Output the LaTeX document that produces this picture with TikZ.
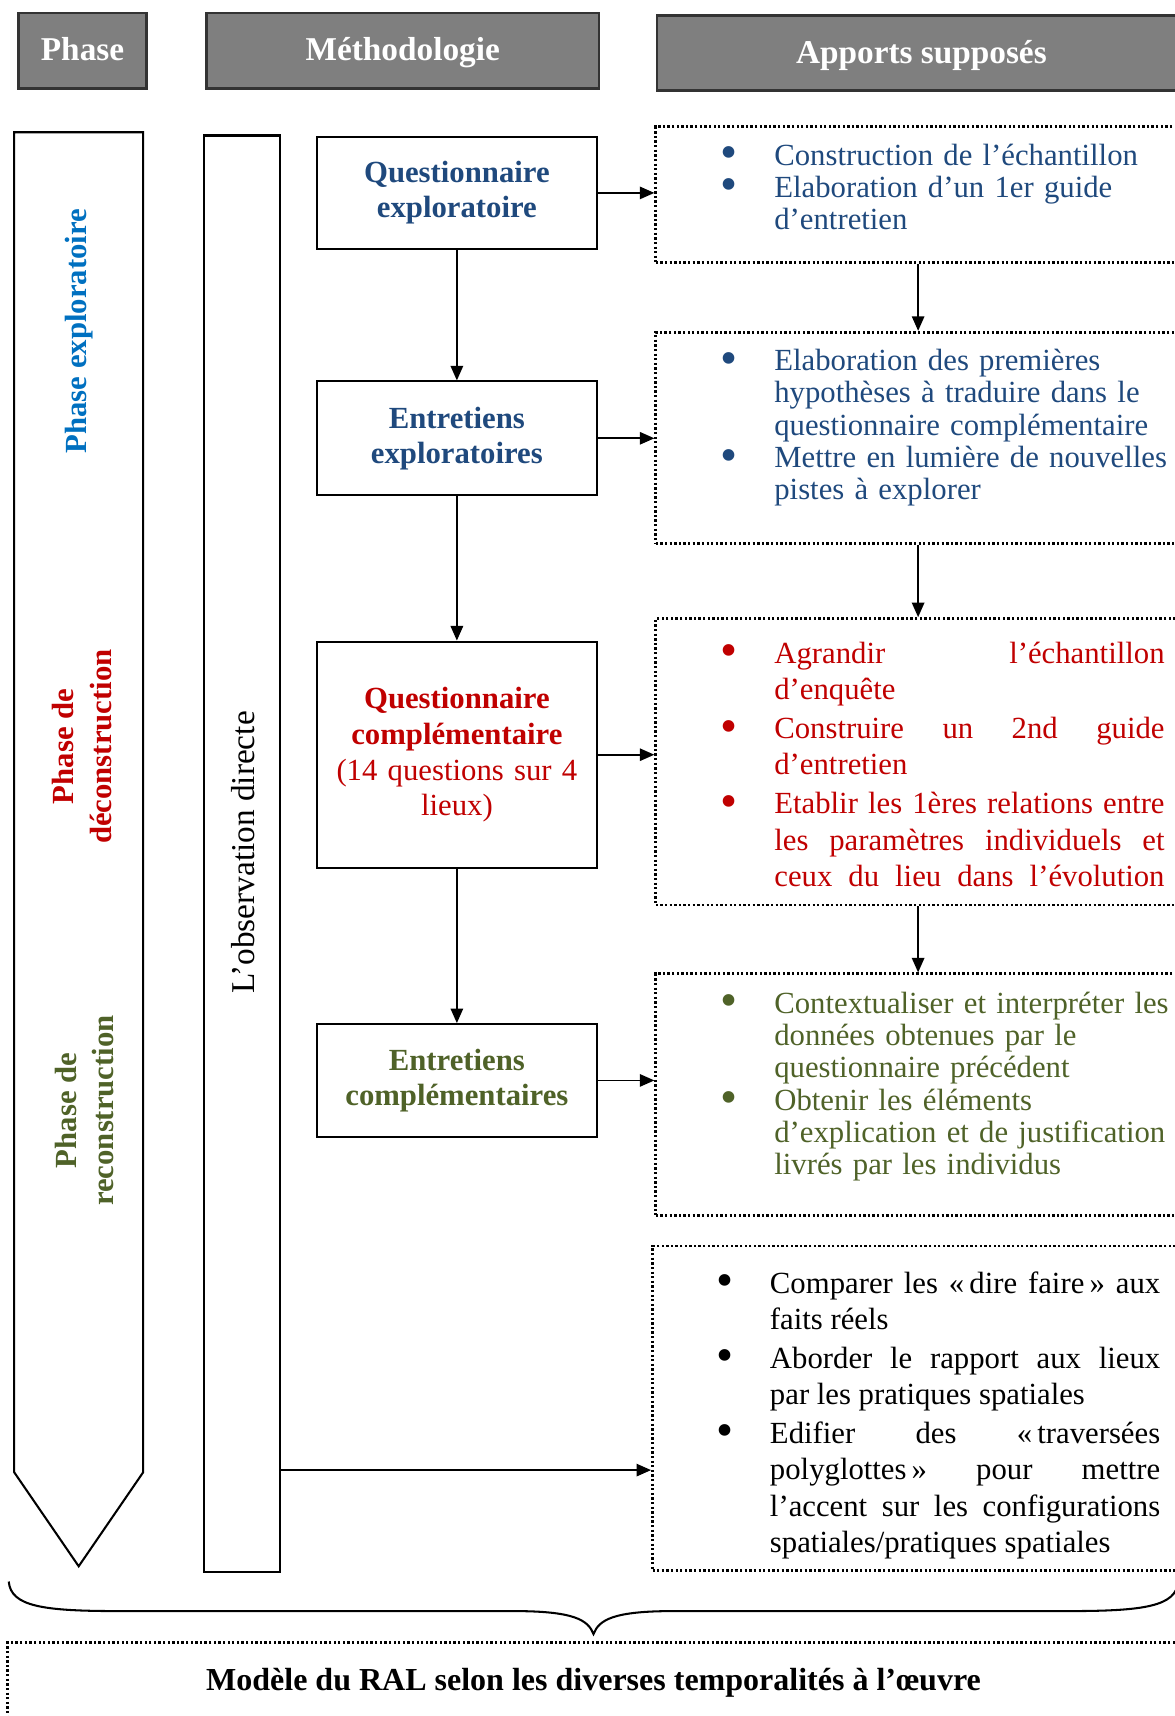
\documentclass[tikz,border=0pt]{standalone}
\usepackage{fontspec}
\setmainfont{Liberation Serif}
\usepackage{enumitem}
\usetikzlibrary{arrows.meta}

\definecolor{bleuQ}{HTML}{1F497D}
\definecolor{bleuP}{HTML}{0070C0}
\definecolor{rougeQ}{HTML}{C00000}
\definecolor{vertQ}{HTML}{4F6228}
\definecolor{grisH}{HTML}{7F7F7F}

\newcommand{\grospoint}{\smash{\raisebox{-0.12em}{\fontsize{19}{19}\selectfont\textbullet}}}
\newenvironment{puces}[1]
  {\begin{itemize}[label = \grospoint, leftmargin = 0.87cm, labelsep = 0.5cm, topsep = 0pt, partopsep = 0pt, parsep = 0pt, itemsep = #1]}
  {\end{itemize}}

\begin{document}
\begin{tikzpicture}
[
x = 0.015cm, y = -0.015cm,
entete/.style = {rectangle, draw = black!80, line width = 1pt, fill = grisH, text = white, font = \fontsize{13}{15}\selectfont\bfseries, minimum height = 1.035cm, text height = 2.2ex, text depth = 0.5ex},
etape/.style = {rectangle, draw, line width = 0.8pt, fill = white, minimum width = 3.84cm, text width = 3.6cm, align = center, font = \fontsize{12}{13.6}\selectfont\bfseries},
apport/.style = {rectangle, draw, line width = 1.1pt, dash pattern = on 0.9pt off 0.9pt, minimum width = 7.2cm},
liste/.style = {anchor = north west, inner sep = 0pt, text width = 6.57cm, align = left, font = \fontsize{12}{12.6}\selectfont},
fleche/.style = {-{Triangle[length = 0.2cm, width = 0.17cm]}, line width = 0.7pt},
phase/.style = {rotate = 90, align = center, font = \fontsize{12}{14.5}\selectfont\bfseries}
]
    \useasboundingbox (0,0) rectangle (1075,1570);

    \node[entete, minimum width = 1.755cm] (hphase) at (75.5,46.5) {Phase};
    \node[entete, minimum width = 5.385cm] (hmetho) at (368.5,46.5) {Méthodologie};
    \node[entete, minimum width = 7.26cm] (hapports) at (843,48.5) {Apports supposés};

    \draw[line width = 0.8pt] (13,121) -- (131,121) -- (131,1347) -- (72,1433) -- (13,1347) -- cycle;
    \node[phase, text = bleuP] (pexplo) at (72,303) {Phase exploratoire};
    \node[phase, text = rougeQ] (pdecon) at (75,683) {Phase de\\déconstruction};
    \node[phase, text = vertQ] (precon) at (77,1016) {Phase de\\reconstruction};

    \node[rectangle, draw, line width = 0.8pt, minimum width = 1.035cm, minimum height = 19.71cm] (obs) at (221.5,781) {};
    \node[rotate = 90, font = \fontsize{13}{15}\selectfont] (tobs) at (222,780) {L’observation directe};

    \node[etape, text = bleuQ, minimum height = 1.545cm] (qexplo) at (418,176.5) {Questionnaire\\exploratoire};
    \node[etape, text = bleuQ, minimum height = 1.56cm] (eexplo) at (418,401) {Entretiens\\exploratoires};
    \node[etape, text = rougeQ, minimum height = 3.105cm, font = \fontsize{12}{14}\selectfont\bfseries] (qcompl) at (418,690.5) {Questionnaire\\complémentaire\\\mdseries (14 questions sur 4\\lieux)};
    \node[etape, text = vertQ, minimum height = 1.545cm] (ecompl) at (418,988.5) {Entretiens\\complémentaires};

    \node[apport, minimum height = 1.86cm] (ap1) at (840,178) {};
    \node[apport, minimum height = 2.895cm] (ap2) at (840,400.5) {};
    \node[apport, minimum height = 3.93cm] (ap3) at (840,697) {};
    \node[apport, minimum height = 3.315cm] (ap4) at (840,1001.5) {};
    \node[apport, minimum width = 7.245cm, minimum height = 4.455cm] (ap5) at (838.5,1288.5) {};

    \node[liste, text = bleuQ] (lst1) at (650,121) {\begin{puces}{0pt}
        \item Construction de l’échantillon
        \item Elaboration d’un 1er guide\linebreak d’entretien
    \end{puces}};
    \node[liste, text = bleuQ] (lst2) at (650,309) {\begin{puces}{0pt}
        \item Elaboration des premières\linebreak hypothèses à traduire dans le\linebreak questionnaire complémentaire
        \item Mettre en lumière de nouvelles\linebreak pistes à explorer
    \end{puces}};
    \node[liste, text = rougeQ, text width = 6.225cm, align = justify, font = \fontsize{12}{14.2}\selectfont] (lst3) at (650,573) {\begin{puces}{1pt}
        \item Agrandir l’échantillon\linebreak d’enquête
        \item Construire un 2nd guide\linebreak d’entretien
        \item Etablir les 1ères relations entre\linebreak les paramètres individuels et\linebreak ceux du lieu dans l’évolution{\parfillskip = 0pt\par}
    \end{puces}};
    \node[liste, text = vertQ] (lst4) at (650,897) {\begin{puces}{0pt}
        \item Contextualiser et interpréter les\linebreak données obtenues par le\linebreak questionnaire précédent
        \item Obtenir les éléments\linebreak d’explication et de justification\linebreak livrés par les individus
    \end{puces}};
    \node[liste, text width = 6.225cm, align = justify, font = \fontsize{12}{14.3}\selectfont] (lst5) at (646,1149) {\begin{puces}{0.7pt}
        \item Comparer les «\,dire faire\,» aux\linebreak faits réels
        \item Aborder le rapport aux lieux\linebreak par les pratiques spatiales
        \item Edifier des «\,traversées\linebreak polyglottes\,» pour mettre\linebreak l’accent sur les configurations\linebreak spatiales/pratiques spatiales
    \end{puces}};

    \coordinate (sortie) at (0,1345);

    \draw[fleche] (qexplo) -- (eexplo);
    \draw[fleche] (eexplo) -- (qcompl);
    \draw[fleche] (qcompl) -- (ecompl);
    \draw[fleche] (qexplo.east) -- (qexplo.east -| ap1.west);
    \draw[fleche] (eexplo.east) -- (eexplo.east -| ap2.west);
    \draw[fleche] (qcompl.east) -- (qcompl.east -| ap3.west);
    \draw[fleche] (ecompl.east) -- (ecompl.east -| ap4.west);
    \draw[fleche] (ap1) -- (ap2);
    \draw[fleche] (ap2) -- (ap3);
    \draw[fleche] (ap3) -- (ap4);
    \draw[fleche] (obs.east |- sortie) -- (ap5.west |- sortie);

    \draw[line width = 0.8pt] (8,1447) .. controls (10,1470) and (40,1474) .. (110,1474) -- (470,1474) .. controls (525,1474) and (538,1482) .. (543,1495) .. controls (548,1482) and (561,1474) .. (616,1474) -- (976,1474) .. controls (1046,1474) and (1076,1470) .. (1078,1447);

    \node[apport, minimum width = 16.17cm, minimum height = 1.455cm] (cadre) at (546,1551.5) {};
    \node[font = \fontsize{12.5}{15}\selectfont\bfseries] (modele) at (543,1540) {Modèle du RAL selon les diverses temporalités à l’œuvre};
\end{tikzpicture}
\end{document}
